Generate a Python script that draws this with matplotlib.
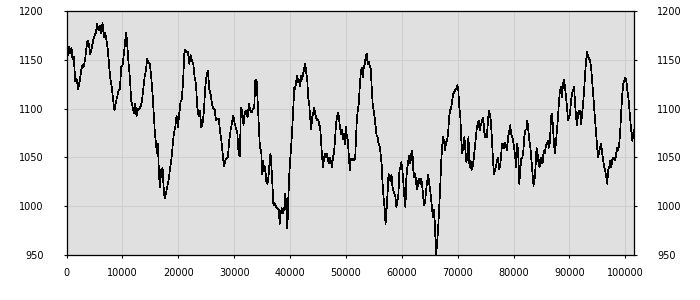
"""Noisy price-like trace over ~100k samples, gray panel, labels on both sides."""
import matplotlib
matplotlib.use("Agg")
import matplotlib.pyplot as plt

# sample positions
x = [0, 179, 358, 537, 716, 896, 1075, 1313, 1552, 1791, 2090, 2388, 2627, 2866, 3104,
     3343, 3522, 3761, 4000, 4239, 4478, 4776, 5015, 5254, 5492, 5731, 5970, 6209, 6448,
     6686, 6925, 7164, 7403, 7642, 7880, 8119, 8358, 8597, 8836, 9074, 9313, 9552, 9791,
     10030, 10268, 10507, 10686, 10865, 11104, 11343, 11582, 11821, 12059, 12298, 12537,
     12776, 13015, 13253, 13492, 13731, 13970, 14209, 14447, 14686, 14925, 15164, 15403,
     15641, 15820, 16000, 16179, 16358, 16537, 16716, 16955, 17194, 17373, 17552, 17791,
     18029, 18268, 18507, 18746, 18985, 19223, 19462, 19701, 19940, 20179, 20417, 20656,
     20895, 21074, 21253, 21492, 21731, 21970, 22208, 22447, 22686, 22925, 23164, 23402,
     23641, 23880, 24119, 24358, 24596, 24835, 25074, 25313, 25552, 25790, 26029, 26268,
     26507, 26746, 26984, 27223, 27462, 27701, 27940, 28178, 28417, 28656, 28895, 29134,
     29372, 29611, 29850, 30089, 30328, 30566, 30805, 31044, 31201, 31441, 31681, 31920,
     32160, 32399, 32639, 32879, 33118, 33358, 33597, 33777, 34017, 34256, 34496, 34613,
     34850, 35027, 35205, 35382, 35560, 35738, 35974, 36152, 36330, 36507, 36685, 36862,
     37040, 37277, 37514, 37750, 37987, 38165, 38342, 38520, 38757, 38994, 39171, 39349,
     39526, 39704, 39882, 40059, 40237, 40414, 40592, 40770, 40947, 41125, 41302, 41480,
     41658, 41835, 42013, 42190, 42368, 42546, 42723, 42901, 43078, 43256, 43434, 43611,
     43789, 43966, 44144, 44322, 44499, 44677, 44854, 45032, 45210, 45387, 45565, 45742,
     45920, 46098, 46275, 46453, 46630, 46808, 46986, 47163, 47341, 47518, 47696, 47874,
     48051, 48229, 48406, 48584, 48762, 48939, 49117, 49294, 49472, 49650, 49827, 50005,
     50182, 50360, 50538, 50715, 50893, 51070, 51248, 51426, 51662, 51771, 51949, 52126,
     52304, 52482, 52659, 52837, 53014, 53192, 53370, 53547, 53725, 53902, 54080, 54258,
     54435, 54613, 54790, 54968, 55146, 55323, 55501, 55678, 55856, 56034, 56211, 56389,
     56566, 56744, 56922, 57099, 57277, 57454, 57632, 57810, 57987, 58165, 58342, 58520,
     58698, 58875, 59053, 59230, 59408, 59586, 59763, 59941, 60118, 60296, 60474, 60651,
     60829, 61006, 61184, 61362, 61539, 61717, 61894, 62072, 62250, 62427, 62605, 62782,
     62960, 63138, 63315, 63493, 63670, 63848, 64026, 64203, 64381, 64558, 64736, 64914,
     65091, 65269, 65446, 65624, 65802, 65979, 66157, 66334, 66512, 66690, 66867, 67045,
     67222, 67400, 67578, 67755, 67933, 68110, 68288, 68466, 68643, 68849, 69030, 69212,
     69394, 69576, 69758, 69939, 70121, 70303, 70485, 70667, 70848, 71030, 71212, 71394,
     71576, 71758, 71939, 72121, 72303, 72485, 72667, 72848, 73030, 73212, 73394, 73576,
     73758, 73939, 74121, 74303, 74485, 74667, 74848, 75030, 75212, 75394, 75576, 75758,
     75939, 76121, 76303, 76485, 76667, 76848, 77030, 77212, 77394, 77576, 77758, 77939,
     78121, 78303, 78485, 78667, 78848, 79030, 79212, 79394, 79576, 79758, 79939, 80121,
     80303, 80485, 80667, 80848, 81030, 81212, 81394, 81576, 81758, 81939, 82121, 82303,
     82485, 82667, 82848, 83030, 83212, 83394, 83576, 83758, 83939, 84121, 84303, 84485,
     84667, 84848, 85030, 85212, 85394, 85576, 85758, 85939, 86121, 86166, 86346, 86526,
     86706, 86885, 87065, 87245, 87424, 87604, 87784, 87963, 88143, 88323, 88502, 88682,
     88862, 89042, 89221, 89401, 89581, 89760, 89940, 90120, 90300, 90479, 90659, 90839,
     91018, 91198, 91378, 91557, 91737, 91917, 92097, 92276, 92456, 92636, 92815, 92995,
     93175, 93354, 93534, 93714, 93893, 94073, 94253, 94433, 94612, 94792, 94972, 95151,
     95331, 95511, 95690, 95870, 96050, 96230, 96409, 96589, 96769, 96948, 97128, 97308,
     97487, 97667, 97847, 98027, 98206, 98386, 98566, 98745, 98925, 99105, 99284, 99464,
     99644, 99824, 100003, 100183, 100363, 100542, 100722, 100902, 101081, 101261, 101500]

values = [1160, 1165, 1155, 1163, 1157, 1162, 1151, 1153, 1128, 1131, 1120, 1129, 1139, 1145, 1143,
          1151, 1160, 1170, 1166, 1156, 1161, 1170, 1175, 1178, 1187, 1180, 1185, 1177, 1188,
          1173, 1178, 1170, 1160, 1143, 1129, 1122, 1108, 1098, 1107, 1112, 1119, 1120, 1143,
          1144, 1156, 1170, 1178, 1166, 1146, 1132, 1108, 1102, 1095, 1105, 1092,
          1100, 1100, 1102, 1107, 1119, 1132, 1139, 1151, 1147, 1146, 1132, 1115,
          1092, 1075, 1064, 1054, 1064, 1034, 1020, 1037, 1039, 1020, 1008, 1013,
          1020, 1027, 1037, 1047, 1061, 1075, 1081, 1093, 1081, 1095, 1107, 1110,
          1132, 1156, 1160, 1158, 1158, 1146, 1155, 1149, 1146, 1132, 1126, 1102,
          1092, 1098, 1081, 1085, 1098, 1122, 1134, 1139, 1120, 1115, 1105, 1100,
          1100, 1088, 1090, 1090, 1078, 1068, 1054, 1041, 1047, 1049, 1051, 1068,
          1078, 1085, 1093, 1085, 1080, 1075, 1054, 1051, 1101, 1098, 1083, 1096,
          1098, 1091, 1105, 1098, 1096, 1100, 1101, 1129, 1130, 1101, 1074, 1060,
          1057, 1033, 1046, 1036, 1040, 1026, 1023, 1030, 1044, 1054, 1040, 1020,
          1001, 1003, 999, 998, 996, 982, 993, 998, 993, 999, 1013, 996,
          977, 1009, 1033, 1050, 1064, 1081, 1101, 1122, 1120, 1129, 1134, 1127,
          1130, 1123, 1134, 1130, 1136, 1142, 1146, 1137, 1130, 1112, 1105, 1091,
          1079, 1091, 1095, 1101, 1095, 1091, 1088, 1089, 1084, 1081, 1067, 1050,
          1040, 1050, 1054, 1050, 1054, 1047, 1044, 1050, 1045, 1040, 1050, 1055,
          1067, 1084, 1091, 1096, 1091, 1081, 1074, 1078, 1069, 1074, 1064, 1081,
          1071, 1067, 1050, 1037, 1049, 1047, 1049, 1047, 1049, 1064, 1088, 1098,
          1105, 1122, 1136, 1142, 1132, 1142, 1146, 1153, 1156, 1146, 1148, 1144,
          1141, 1122, 1105, 1098, 1091, 1081, 1072, 1071, 1064, 1062, 1054, 1044,
          1023, 1009, 999, 982, 996, 1013, 1033, 1030, 1026, 1032, 1020, 1015,
          1013, 1009, 999, 1006, 1013, 1037, 1040, 1045, 1037, 1023, 1009, 999,
          1030, 1040, 1047, 1052, 1044, 1054, 1057, 1037, 1030, 1033, 1023, 1017,
          1026, 1028, 1023, 1028, 1020, 1009, 1001, 1006, 1017, 1026, 1032, 1023,
          1017, 1006, 996, 989, 996, 973, 951, 963, 977, 996, 1017, 1044,
          1061, 1071, 1067, 1057, 1066, 1067, 1074, 1091, 1098, 1101, 1108, 1115,
          1117, 1119, 1120, 1124, 1119, 1101, 1091, 1067, 1054, 1064, 1071, 1057,
          1045, 1054, 1071, 1040, 1047, 1037, 1040, 1047, 1057, 1067, 1078, 1084,
          1088, 1078, 1083, 1086, 1091, 1084, 1071, 1074, 1071, 1084, 1098, 1095,
          1088, 1071, 1050, 1033, 1037, 1040, 1047, 1050, 1038, 1040, 1050, 1064,
          1064, 1060, 1065, 1062, 1057, 1071, 1076, 1083, 1074, 1071, 1067, 1060,
          1050, 1040, 1064, 1054, 1023, 1037, 1049, 1050, 1057, 1071, 1078, 1079,
          1088, 1078, 1067, 1060, 1047, 1033, 1021, 1026, 1040, 1060, 1054, 1044,
          1040, 1050, 1045, 1044, 1057, 1054, 1060, 1065, 1064, 1067, 1060, 1067,
          1091, 1095, 1081, 1064, 1054, 1067, 1078, 1091, 1108, 1119, 1122, 1112,
          1125, 1130, 1122, 1112, 1101, 1088, 1091, 1095, 1108, 1115, 1119, 1122,
          1105, 1091, 1083, 1095, 1098, 1098, 1084, 1095, 1105, 1119, 1136, 1149,
          1158, 1153, 1151, 1149, 1142, 1129, 1115, 1101, 1088, 1074, 1060, 1050,
          1057, 1060, 1064, 1054, 1047, 1040, 1037, 1030, 1023, 1037, 1040, 1047,
          1040, 1047, 1050, 1049, 1047, 1054, 1060, 1057, 1064, 1078, 1098, 1115,
          1125, 1129, 1132, 1129, 1119, 1112, 1101, 1088, 1078, 1067, 1078]

x_ticks = [0, 10000, 20000, 30000, 40000, 50000, 60000, 70000, 80000, 90000, 100000]
y_ticks = [950, 1000, 1050, 1100, 1150, 1200]

fig = plt.figure(figsize=(7, 3), dpi=100)
ax = fig.add_axes([0.095, 0.15, 0.811, 0.813])
ax.set_facecolor('#e0e0e0')

ax.plot(x, values, color='black', lw=0.5, antialiased=False)

ax.set_xlim(0, 101600)
ax.set_ylim(950, 1200)
ax.set_xticks(x_ticks)
ax.set_yticks(y_ticks)
ax.grid(True, color='#cfcfcf', lw=0.8)
ax.set_axisbelow(True)

ax.tick_params(axis='both', labelsize=7, length=2.5, width=0.8, color='black')
ax.tick_params(axis='y', right=True, labelright=True, pad=14)
ax.tick_params(axis='x', pad=7)
for s in ax.spines.values():
    s.set_linewidth(0.9)

plt.savefig('out.png')
